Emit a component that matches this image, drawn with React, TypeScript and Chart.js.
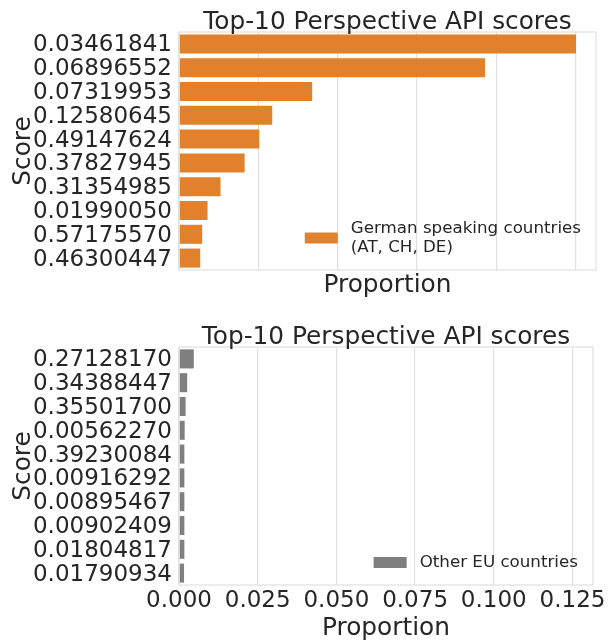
import React, { useEffect, useRef } from "react";
import { Chart, registerables } from "chart.js";

Chart.register(...registerables);

const topLabels = [
  "0.03461841", "0.06896552", "0.07319953", "0.12580645", "0.49147624",
  "0.37827945", "0.31354985", "0.01990050", "0.57175570", "0.46300447",
];
const topValues = [0.1252, 0.0965, 0.042, 0.0294, 0.0253, 0.0207, 0.0131, 0.009, 0.0073, 0.0067];

const bottomLabels = [
  "0.27128170", "0.34388447", "0.35501700", "0.00562270", "0.39230084",
  "0.00916292", "0.00895467", "0.00902409", "0.01804817", "0.01790934",
];
const bottomValues = [0.0047, 0.0026, 0.0021, 0.0018, 0.0017, 0.0017, 0.0017, 0.0017, 0.0017, 0.0016];

const xTickValues = [0, 0.025, 0.05, 0.075, 0.1, 0.125];
const xMax = 0.1315;

const topLegend = ["German speaking countries", "(AT, CH, DE)"];
const bottomLegend = ["Other EU countries"];
const chartTitle = "Top-10 Perspective API scores";
const xTitle = "Proportion";
const yTitle = "Score";

const ORANGE = "#e1812c";
const GRAY = "#7f7f7f";
const TEXT = "#262626";
const GRID = "#e0e0e0";
const FONT = "'DejaVu Sans', sans-serif";

const decorPlugin = {
  id: "decor",
  afterDraw(chart: any, _args: any, opts: any) {
    const { ctx, chartArea } = chart;
    const cx = (chartArea.left + chartArea.right) / 2;
    const cy = (chartArea.top + chartArea.bottom) / 2;
    ctx.save();
    // frame (all four spines)
    ctx.strokeStyle = GRID;
    ctx.lineWidth = 1.2;
    ctx.strokeRect(chartArea.left, chartArea.top, chartArea.right - chartArea.left, chartArea.bottom - chartArea.top);

    // title
    ctx.fillStyle = TEXT;
    ctx.font = `24.8px ${FONT}`;
    ctx.textAlign = "center";
    ctx.textBaseline = "alphabetic";
    ctx.fillText(chartTitle, cx, chartArea.top - 2.6);

    // x title
    ctx.fillText(xTitle, cx, chartArea.bottom + opts.xTitleOffset);

    // y title
    ctx.save();
    ctx.translate(29.5, cy);
    ctx.rotate(-Math.PI / 2);
    ctx.fillText(yTitle, 0, 0);
    ctx.restore();

    // legend
    const lines: string[] = opts.lines || [];
    ctx.font = `16.7px ${FONT}`;
    const lh = 19;
    let maxW = 0;
    lines.forEach((l) => (maxW = Math.max(maxW, ctx.measureText(l).width)));
    const textX = chartArea.right - 15 - maxW;
    const lastCenter = chartArea.bottom - 22.5;
    const firstCenter = lastCenter - lh * (lines.length - 1);
    const blockCenter = (firstCenter + lastCenter) / 2;
    ctx.fillStyle = opts.color;
    ctx.fillRect(textX - 13 - 33, blockCenter - 5.5, 33, 11);
    ctx.fillStyle = TEXT;
    ctx.textAlign = "left";
    ctx.textBaseline = "middle";
    lines.forEach((l, i) => ctx.fillText(l, textX, firstCenter + i * lh));
    ctx.restore();
  },
};

function makeConfig(
  labels: string[],
  values: number[],
  color: string,
  legend: string[],
  showX: boolean,
  padTop: number,
  xHeight: number,
  xTitleOffset: number
): any {
  return {
    type: "bar",
    data: {
      labels,
      datasets: [
        {
          data: values,
          backgroundColor: color,
          borderWidth: 0,
          categoryPercentage: 1,
          barPercentage: 0.8,
        },
      ],
    },
    plugins: [decorPlugin],
    options: {
      indexAxis: "y",
      responsive: false,
      animation: false,
      layout: { padding: { left: 0, right: 12, top: padTop, bottom: 0 } },
      plugins: {
        legend: { display: false },
        tooltip: { enabled: false },
        title: { display: false },
        decor: { lines: legend, color, xTitleOffset },
      },
      scales: {
        x: {
          min: 0,
          max: xMax,
          grid: { color: GRID, lineWidth: 1.2, drawTicks: false },
          border: { display: false },
          afterBuildTicks: (scale: any) => {
            scale.ticks = xTickValues.map((v) => ({ value: v }));
          },
          ticks: {
            display: showX,
            color: TEXT,
            padding: 2,
            maxRotation: 0,
            autoSkip: false,
            font: { family: FONT, size: 23, lineHeight: 1.2 },
            callback: (v: any) => Number(v).toFixed(3),
          },
          title: { display: false },
          afterFit: (scale: any) => {
            scale.height = xHeight;
          },
        },
        y: {
          grid: { display: false, drawTicks: false },
          border: { display: false },
          ticks: {
            color: TEXT,
            padding: 7,
            autoSkip: false,
            labelOffset: 1.5,
            font: { family: FONT, size: 23, lineHeight: 1.0 },
          },
          title: { display: false },
          afterFit: (scale: any) => {
            scale.width = 179;
          },
        },
      },
    },
  };
}

export default function App() {
  const topRef = useRef<HTMLCanvasElement | null>(null);
  const botRef = useRef<HTMLCanvasElement | null>(null);

  useEffect(() => {
    const c1 = new Chart(
      topRef.current as HTMLCanvasElement,
      makeConfig(topLabels, topValues, ORANGE, topLegend, false, 32, 40, 22.3)
    );
    const c2 = new Chart(
      botRef.current as HTMLCanvasElement,
      makeConfig(bottomLabels, bottomValues, GRAY, bottomLegend, true, 37, 56, 50)
    );
    return () => {
      c1.destroy();
      c2.destroy();
    };
  }, []);

  return (
    <div style={{ position: "fixed", left: 0, top: 0, width: 608, height: 641, background: "#fff" }}>
      <canvas ref={topRef} width={608} height={310} style={{ position: "absolute", left: 0, top: 0, width: 608, height: 310 }} />
      <canvas ref={botRef} width={608} height={331} style={{ position: "absolute", left: 0, top: 310, width: 608, height: 331 }} />
    </div>
  );
}
